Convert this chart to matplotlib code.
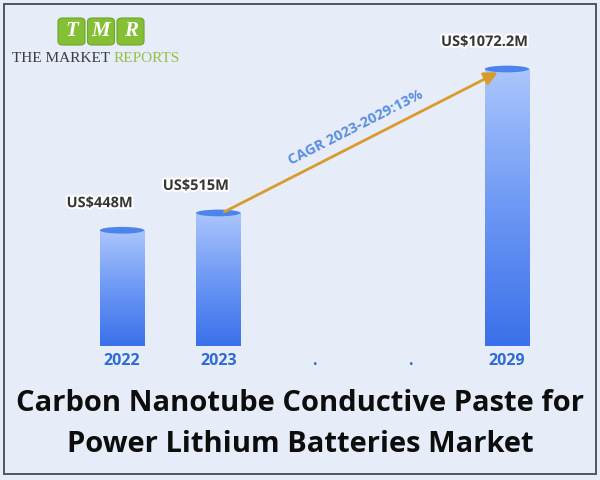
import matplotlib
matplotlib.use("Agg")
import matplotlib.pyplot as plt
import numpy as np
from matplotlib.patches import Ellipse, Rectangle, FancyBboxPatch
from matplotlib.colors import LinearSegmentedColormap
import matplotlib.patheffects as pe

# data
years = ["2022", "2023", ".", ".", "2029"]
positions = [0, 1, 4]
values = [448, 515, 1072.2]
value_labels = ["US$448M", "US$515M", "US$1072.2M"]
cagr_text = "CAGR 2023-2029:13%"
title_lines = "Carbon Nanotube Conductive Paste for\nPower Lithium Batteries Market"

bg = "#e6ecf8"
plt.rcParams['font.family'] = ['Open Sans', 'DejaVu Sans']

fig = plt.figure(figsize=(6, 4.8), dpi=100, facecolor=bg)

# frame around the whole picture
fig.patches.append(Rectangle((4 / 600, 6 / 480), 592 / 600, 470 / 480,
                             transform=fig.transFigure, fill=False,
                             edgecolor="#50545e", linewidth=1.4))

ax = fig.add_axes([45 / 600, 134 / 480, 539 / 600, 310 / 480])
ax.set_facecolor("none")
for s in ax.spines.values():
    s.set_visible(False)
ax.set_yticks([])
ax.set_xticks(range(len(years)))
ax.set_xticklabels(years, color="#2e6bd6", fontsize=11.5, fontweight="bold")
ax.tick_params(axis="x", length=0, pad=5)

cmap = LinearSegmentedColormap.from_list("bar", ["#3a70ea", "#6d98f4", "#abc6fc"])
grad = np.linspace(0, 1, 256).reshape(-1, 1)
w = 0.46
eh = 26

for x, v, lab in zip(positions, values, value_labels):
    # bottom rounded cap
    ax.add_patch(Ellipse((x, 0), w, eh, facecolor="#3a6ee4", edgecolor="none", zorder=2))
    ax.imshow(grad, extent=[x - w / 2, x + w / 2, 0, v], origin="lower",
              cmap=cmap, aspect="auto", zorder=3)
    ax.add_patch(Ellipse((x, v), w, eh, facecolor="#4d84ec", edgecolor="none", zorder=4))
    ax.annotate(lab, (x, v), xytext=(-16, 19.5), textcoords="offset points",
                ha="center", va="center", fontsize=10.5, fontweight="bold",
                color="#363636", zorder=6,
                path_effects=[pe.withStroke(linewidth=3, foreground="white")])

ax.set_xlim(-0.8, 4.8)
ax.set_ylim(0, 1200)

# CAGR arrow from 2023 top to 2029 top
ax.annotate("", xy=(3.93, values[2] - 8), xytext=(1.04, values[1]),
            arrowprops=dict(arrowstyle="-|>,head_length=0.8,head_width=0.4",
                            color="#d99b2b", lw=2), zorder=5)
ax.text(2.43, 845, cagr_text, rotation=27, ha="center", va="center",
        fontsize=10.5, fontweight="bold", color="#5b8fe3", zorder=6)

# title
fig.text(0.5, 56 / 480, title_lines, ha="center", va="center",
         fontsize=21, fontweight="bold", color="#0d0d0d", linespacing=1.55)

# logo
for i, ch in enumerate("TMR"):
    x0 = 58 + i * 29.5
    fig.patches.append(FancyBboxPatch((x0 / 600, (480 - 45) / 480), 27 / 600, 27 / 480,
                                      boxstyle="round,pad=0,rounding_size=0.008",
                                      transform=fig.transFigure,
                                      facecolor="#84bf36", edgecolor="#6ea52a", lw=0.8))
    fig.text((x0 + 13.5) / 600, (480 - 31.5) / 480, ch, ha="center", va="center",
             fontsize=15, fontweight="bold", fontstyle="italic",
             family="Liberation Serif", color="white")

t1 = fig.text(12 / 600, (480 - 59) / 480, "THE MARKET ", ha="left", va="center",
              fontsize=11, family="Liberation Serif", color="#3c3c3c")
fig.canvas.draw()
bb = t1.get_window_extent()
fig.text(bb.x1 / 600, (480 - 59) / 480, "REPORTS", ha="left", va="center",
         fontsize=11, family="Liberation Serif", color="#93c24c")

fig.savefig("out.png", dpi=100, facecolor=bg)
